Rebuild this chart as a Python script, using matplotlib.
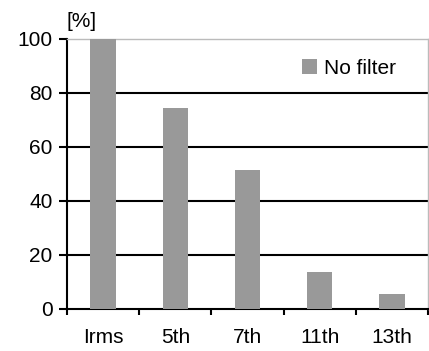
import matplotlib
matplotlib.use("Agg")
import matplotlib.pyplot as plt
import numpy as np

categories = ["Irms", "5th", "7th", "11th", "13th"]
values = [100, 74.4, 51.4, 13.6, 5.6]
series_name = "No filter"
yticks = [0, 20, 40, 60, 80, 100]

plt.rcParams['font.family'] = ['Liberation Sans', 'DejaVu Sans']
W, H = 429, 351
fig = plt.figure(figsize=(W/100, H/100), dpi=100)
ax = fig.add_axes([67/W, 1-309/H, (428-67)/W, (309-39)/H])

x = np.arange(len(categories))
ax.bar(x, values, width=0.35, color='#999999', label=series_name, zorder=3)
ax.set_xlim(-0.5, len(categories)-0.5)
ax.set_ylim(0, 100)
ax.set_yticks(yticks)
ax.set_xticks(x)
ax.set_xticklabels(categories, fontsize=15)
ax.tick_params(axis='y', labelsize=15, length=5.5, width=1.5, direction='out', pad=5)
ax.tick_params(axis='x', length=0, pad=14)
ax.set_xticks(np.arange(len(categories)+1)-0.5, minor=True)
ax.tick_params(axis='x', which='minor', length=4.5, width=1.5, direction='out')
for yv in yticks[1:-1]:
    ax.axhline(yv, color='black', lw=1.5, zorder=1)
ax.spines['left'].set_linewidth(1.5)
ax.spines['bottom'].set_linewidth(1.5)
ax.spines['top'].set_color('#bbbbbb')
ax.spines['right'].set_color('#bbbbbb')
ax.spines['top'].set_linewidth(1)
ax.spines['right'].set_linewidth(1)
ax.text(0.0, 1.03, "[%]", transform=ax.transAxes, fontsize=15, ha='left', va='bottom')
leg = ax.legend(loc='upper right', bbox_to_anchor=(0.963, 0.997), frameon=False, fontsize=15,
                handlelength=0.7, handleheight=0.7, handletextpad=0.35)
fig.savefig("out.png", dpi=100)
